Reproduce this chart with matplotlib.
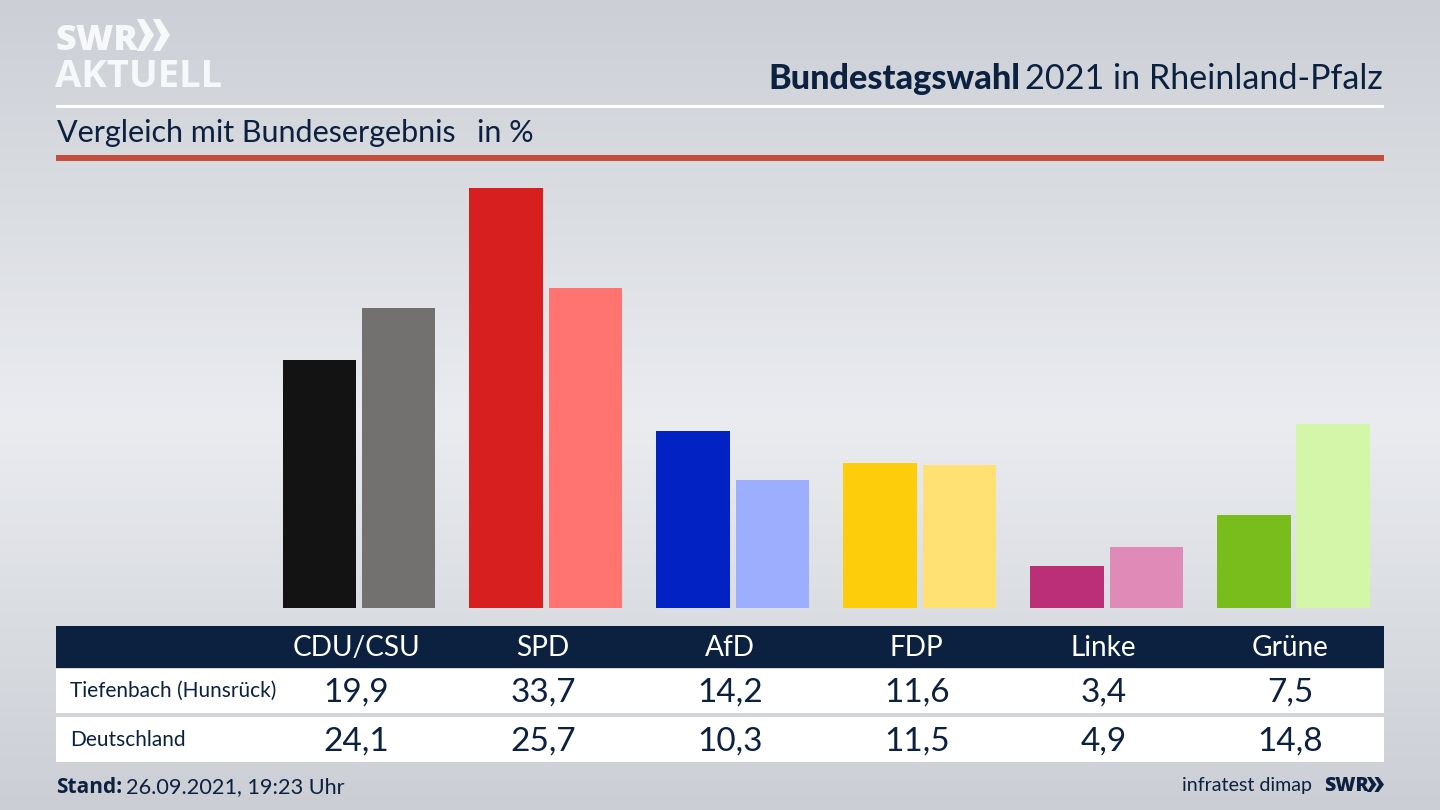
import numpy as np
import matplotlib
matplotlib.use("Agg")
import matplotlib.pyplot as plt
from matplotlib.patches import Rectangle, Polygon

parties = ["CDU/CSU", "SPD", "AfD", "FDP", "Linke", "Grüne"]
local_values = [19.9, 33.7, 14.2, 11.6, 3.4, 7.5]
national_values = [24.1, 25.7, 10.3, 11.5, 4.9, 14.8]
local_colors = ["#131313", "#d81f1f", "#0222c4", "#fdcc0a", "#bb2f78", "#79bd1c"]
national_colors = ["#73716f", "#ff7470", "#9dadff", "#ffe072", "#e08ab8", "#d3f6a8"]
row_labels = ["Tiefenbach (Hunsrück)", "Deutschland"]

W, H = 1440, 810
NAVY = "#0c2140"
FONT = "Lato"
plt.rcParams["font.family"] = FONT

fig = plt.figure(figsize=(14.4, 8.1), dpi=100)

# background gradient
bg = fig.add_axes([0, 0, 1, 1], zorder=0)
bg.set_axis_off()
ys = np.linspace(0, 1, 256)
top = np.array([204, 207, 213]) / 255
mid = np.array([234, 236, 240]) / 255
bot = np.array([203, 206, 212]) / 255
grad = np.where(ys[:, None] < 0.52,
                top + (mid - top) * (ys[:, None] / 0.52),
                mid + (bot - mid) * ((ys[:, None] - 0.52) / 0.48))
bg.imshow(grad[:, None, :], aspect="auto", extent=[0, 1, 1, 0])

# overlay in pixel coordinates for furniture
ov = fig.add_axes([0, 0, 1, 1], zorder=1)
ov.set_xlim(0, W)
ov.set_ylim(H, 0)
ov.set_axis_off()
ov.patch.set_alpha(0)

def rect(x0, y0, x1, y1, color):
    ov.add_patch(Rectangle((x0, y0), x1 - x0, y1 - y0, fc=color, ec="none"))

rect(56, 104.5, 1384, 107.5, "white")
rect(56, 155, 1384, 160.5, "#c6503d")
rect(56, 626, 1384, 668, NAVY)
rect(56, 669, 1384, 713, "white")
rect(56, 717, 1384, 762, "white")

# logo
ov.text(55, 50, "SWR", color="#f7f8f9", fontsize=26, fontweight="black",
        family="Open Sans", va="baseline", ha="left")
for dx in (0, 16):
    ov.add_patch(Polygon([(137 + dx, 19), (144 + dx, 19), (154 + dx, 35),
                          (144 + dx, 51), (137 + dx, 51), (145 + dx, 35)],
                         fc="#f7f8f9", ec="none"))
ov.text(55, 87, "AKTUELL", color="#f7f8f9", fontsize=27.5, fontweight="bold",
        family="Open Sans", va="baseline", ha="left")

# headings
ov.text(1383, 89, "2021 in Rheinland-Pfalz", color=NAVY, fontsize=24.6,
        ha="right", va="baseline")
ov.text(1020, 89, "Bundestagswahl", color=NAVY, fontsize=24.7, fontweight="black",
        ha="right", va="baseline")
ov.text(57, 142, "Vergleich mit Bundesergebnis", color=NAVY, fontsize=22,
        ha="left", va="baseline")
ov.text(477, 142, "in %", color=NAVY, fontsize=22, ha="left", va="baseline")

# bars, on their own axes: one x unit is one party group, y in percent
PX_PER_UNIT = 12.46
BASE_Y = 608
TOP_Y = 170
GROUP = 186.9
LEFT_X = 262
ax = fig.add_axes([LEFT_X / W, 1 - BASE_Y / H, (1384 - LEFT_X) / W, (BASE_Y - TOP_Y) / H], zorder=2)
ax.set_axis_off()
ax.patch.set_alpha(0)
ax.set_xlim(0, (1384 - LEFT_X) / GROUP)
ax.set_ylim(0, (BASE_Y - TOP_Y) / PX_PER_UNIT)
centers = (np.array([356.0 + i * GROUP for i in range(len(parties))]) + 3 - LEFT_X) / GROUP
bw = 73.5 / GROUP
off = 39.7 / GROUP
ax.bar(centers - off, local_values, width=bw, color=local_colors, linewidth=0)
ax.bar(centers + off, national_values, width=bw, color=national_colors, linewidth=0)

# table
col_x = [356 + i * GROUP for i in range(len(parties))]
for x, p, a, b in zip(col_x, parties, local_values, national_values):
    ov.text(x, 656, p, color="white", fontsize=20.2, ha="center", va="baseline")
    ov.text(x, 702, f"{a:.1f}".replace(".", ","), color=NAVY, fontsize=24, ha="center", va="baseline")
    ov.text(x, 751, f"{b:.1f}".replace(".", ","), color=NAVY, fontsize=24, ha="center", va="baseline")
ov.text(70, 697, row_labels[0], color=NAVY, fontsize=15, ha="left", va="baseline")
ov.text(70, 746, row_labels[1], color=NAVY, fontsize=15, ha="left", va="baseline")

# footer
ov.text(56, 793, "Stand:", color=NAVY, fontsize=15, fontweight="bold", family="Open Sans",
        ha="left", va="baseline")
ov.text(126, 793, "26.09.2021, 19:23 Uhr", color=NAVY, fontsize=15.6, ha="left", va="baseline")
ov.text(1312, 791, "infratest dimap", color=NAVY, fontsize=14.1, ha="right", va="baseline")
ov.text(1324, 791, "SWR", color=NAVY, fontsize=14, fontweight="black", family="Open Sans", ha="left", va="baseline")
for dx in (0, 7.5):
    ov.add_patch(Polygon([(1367 + dx, 777), (1371 + dx, 777), (1376.5 + dx, 784.5),
                          (1371 + dx, 792), (1367 + dx, 792), (1371.5 + dx, 784.5)],
                         fc=NAVY, ec="none"))

fig.savefig("out.png", dpi=100)
